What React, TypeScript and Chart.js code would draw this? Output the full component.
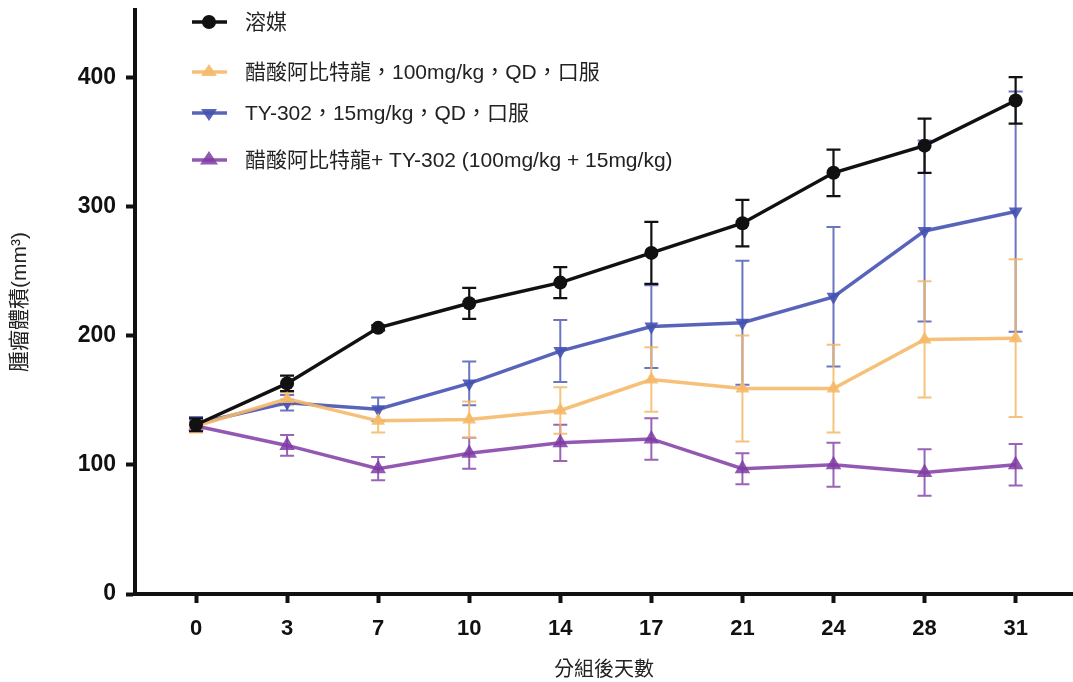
import React, { useEffect, useRef } from "react";
import { Chart, registerables } from "chart.js";

Chart.register(...registerables);

const days = ["0", "3", "7", "10", "14", "17", "21", "24", "28", "31"];
const seriesNames = [
  "溶媒",
  "醋酸阿比特龍，100mg/kg，QD，口服",
  "TY-302，15mg/kg，QD，口服",
  "醋酸阿比特龍+ TY-302 (100mg/kg + 15mg/kg)",
];
const vehicleMean = [131, 163, 206, 225, 241, 264, 287, 326, 347, 382];
const vehicleErr = [5, 6, 2, 12, 12, 24, 18, 18, 21, 18];
const abiMean = [130, 151, 134, 135, 142, 166, 159, 159, 197, 198];
const abiErr = [5, 5, 9, 14, 18, 25, 41, 34, 45, 61];
const tyMean = [132, 148, 143, 163, 188, 207, 210, 230, 281, 296];
const tyErr = [5, 6, 9, 17, 24, 32, 48, 54, 70, 93];
const comboMean = [130, 115, 97, 109, 117, 120, 97, 100, 94, 100];
const comboErr = [3, 8, 9, 12, 14, 16, 12, 17, 18, 16];
const yTicks = [0, 100, 200, 300, 400];

const colors = ["#111111", "rgba(245,185,105,0.9)", "rgba(70,82,178,0.9)", "rgba(128,60,165,0.85)"];
const errColors = ["#111111", "rgba(245,185,105,0.85)", "rgba(70,82,178,0.8)", "rgba(128,60,165,0.8)"];
const pointStyles = ["circle", "triangle", "triangle", "triangle"];
const rotations = [0, 0, 180, 0];
const radii = [7, 8, 8, 9];
const means = [vehicleMean, abiMean, tyMean, comboMean];
const errs = [vehicleErr, abiErr, tyErr, comboErr];

const FONT = "'Liberation Sans', Arial, 'Noto Sans CJK TC', sans-serif";

const errorBarPlugin = {
  id: "errorBars",
  beforeDatasetsDraw(chart: any) {
    const ctx = chart.ctx;
    const xs = chart.scales.x;
    const ys = chart.scales.y;
    ctx.save();
    for (let d = means.length - 1; d >= 0; d--) {
      ctx.strokeStyle = errColors[d];
      ctx.lineWidth = d === 0 ? 2.2 : 2;
      for (let i = 0; i < means[d].length; i++) {
        const x = xs.getPixelForValue(i);
        const y1 = ys.getPixelForValue(means[d][i] + errs[d][i]);
        const y2 = ys.getPixelForValue(means[d][i] - errs[d][i]);
        const cw = 7;
        ctx.beginPath();
        ctx.moveTo(x, y1);
        ctx.lineTo(x, y2);
        ctx.moveTo(x - cw, y1);
        ctx.lineTo(x + cw, y1);
        ctx.moveTo(x - cw, y2);
        ctx.lineTo(x + cw, y2);
        ctx.stroke();
      }
    }
    ctx.restore();
  },
};

const legendPlugin = {
  id: "customLegend",
  afterDraw(chart: any) {
    const ctx = chart.ctx;
    const rows = [22, 72, 113, 160];
    ctx.save();
    for (let d = 0; d < seriesNames.length; d++) {
      const y = rows[d];
      ctx.strokeStyle = colors[d];
      ctx.lineWidth = 3.5;
      ctx.beginPath();
      ctx.moveTo(192, y);
      ctx.lineTo(227, y);
      ctx.stroke();
      ctx.fillStyle = colors[d];
      const r = radii[d];
      if (pointStyles[d] === "circle") {
        ctx.beginPath();
        ctx.arc(209, y, r, 0, Math.PI * 2);
        ctx.fill();
      } else {
        const dir = rotations[d] === 180 ? -1 : 1;
        const h = r * 1.5;
        ctx.beginPath();
        ctx.moveTo(209, y - dir * h * 0.66);
        ctx.lineTo(209 - r, y + dir * h * 0.34);
        ctx.lineTo(209 + r, y + dir * h * 0.34);
        ctx.closePath();
        ctx.fill();
      }
      ctx.fillStyle = "#222";
      ctx.font = `21px ${FONT}`;
      ctx.textBaseline = "middle";
      ctx.textAlign = "left";
      ctx.fillText(seriesNames[d], 245, y + 1);
    }
    ctx.restore();
  },
};

export default function App() {
  const ref = useRef<HTMLCanvasElement>(null);
  useEffect(() => {
    document.body.style.margin = "0";
    const canvas = ref.current!;
    const chart = new Chart(canvas, {
      type: "line",
      data: {
        datasets: means.map((m, d) => ({
          label: seriesNames[d],
          data: m.map((v, i) => ({ x: i, y: v })),
          borderColor: colors[d],
          backgroundColor: colors[d],
          borderWidth: 3.5,
          pointStyle: pointStyles[d] as any,
          rotation: rotations[d],
          pointRadius: radii[d],
          pointBorderWidth: 0,
          tension: 0,
          clip: false,
        })),
      },
      options: {
        animation: false,
        responsive: false,
        maintainAspectRatio: false,
        layout: { autoPadding: false, padding: { top: 10, right: 0, left: 0, bottom: 0 } },
        plugins: { legend: { display: false }, tooltip: { enabled: false } },
        scales: {
          x: {
            type: "linear",
            min: -0.67,
            max: 9.63,
            afterBuildTicks(scale: any) {
              scale.ticks = days.map((_, i) => ({ value: i }));
            },
            afterFit(scale: any) {
              scale.height = 88;
              scale.paddingLeft = 0;
              scale.paddingRight = 0;
            },
            grid: { drawOnChartArea: false, tickLength: 9, tickWidth: 4, tickColor: "#111" },
            border: { display: true, width: 4, color: "#111" },
            ticks: {
              autoSkip: false,
              maxRotation: 0,
              padding: 13,
              color: "#111",
              font: { family: FONT, size: 22, weight: "bold" },
              callback: (v: any) => days[v] ?? "",
            },
            title: {
              display: true,
              text: "分組後天數",
              color: "#222",
              font: { family: FONT, size: 20 },
              padding: { top: 8, bottom: 0 },
            },
          },
          y: {
            type: "linear",
            min: 0,
            max: 452,
            afterBuildTicks(scale: any) {
              scale.ticks = yTicks.map((v) => ({ value: v }));
            },
            afterFit(scale: any) {
              scale.width = 135;
              scale.paddingTop = 0;
              scale.paddingBottom = 0;
            },
            grid: { drawOnChartArea: false, tickLength: 9, tickWidth: 4, tickColor: "#111" },
            border: { display: true, width: 4, color: "#111" },
            ticks: {
              padding: 10,
              color: "#111",
              font: { family: FONT, size: 23, weight: "bold" },
            },
            title: {
              display: true,
              text: "腫瘤體積(mm³)",
              color: "#222",
              font: { family: FONT, size: 21 },
              padding: { top: 8, bottom: 0 },
            },
          },
        },
      } as any,
      plugins: [errorBarPlugin, legendPlugin],
    });
    return () => chart.destroy();
  }, []);
  return (
    <div style={{ width: 1073, height: 682 }}>
      <canvas ref={ref} width={1073} height={682} style={{ display: "block" }} />
    </div>
  );
}
